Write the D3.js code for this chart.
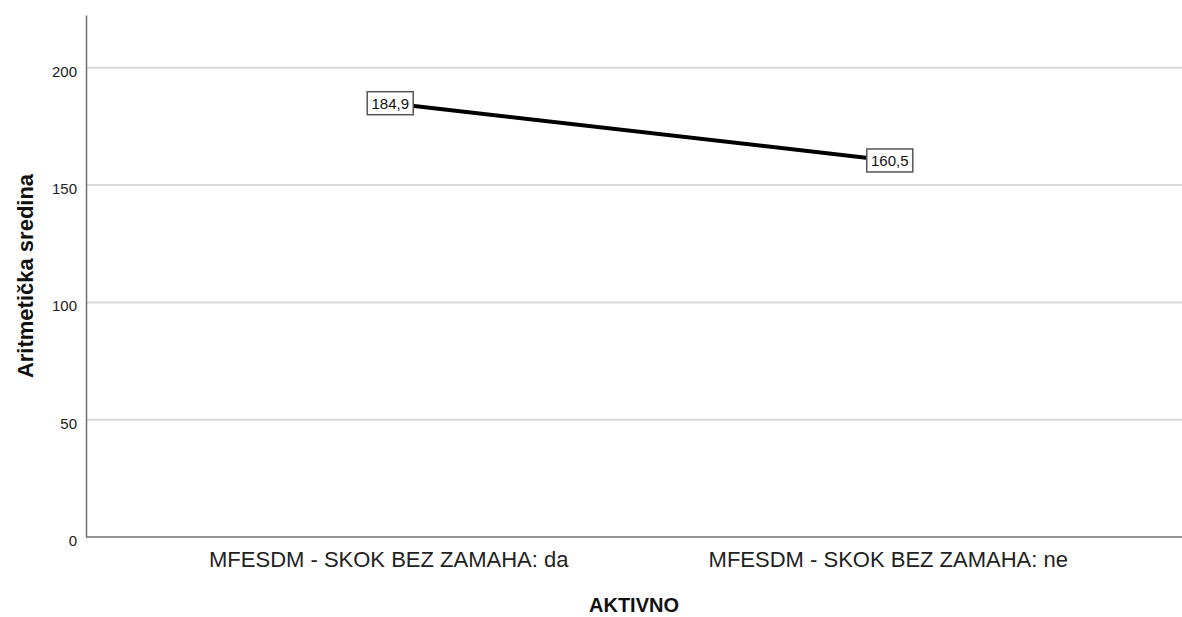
<!DOCTYPE html>
<html>
<head>
<meta charset="utf-8">
<script src="https://cdn.jsdelivr.net/npm/d3@7"></script>
<style>
  body { margin: 0; background: #fff; }
  svg { display: block; font-family: "Liberation Sans", Arial, sans-serif; }
</style>
</head>
<body>
<svg id="chart" width="1182" height="617"></svg>
<script>
const categories = ["MFESDM - SKOK BEZ ZAMAHA: da", "MFESDM - SKOK BEZ ZAMAHA: ne"];
const means = [184.9, 160.5];
const meanLabels = ["184,9", "160,5"];
const yTicks = [0, 50, 100, 150, 200];
const yMax = 222.5;
const xTitle = "AKTIVNO";
const yTitle = "Aritmetička sredina";

const FONT = "'Liberation Sans', Arial, sans-serif";
const svg = d3.select("#chart");
const mL = 86, mR = 1182, mT = 15, mB = 537;

const x = d3.scalePoint().domain(categories).range([mL, 1194]).padding(0.609);
const y = d3.scaleLinear().domain([0, yMax]).range([mB, mT]);

// gridlines
svg.append("g").selectAll("line").data(yTicks.filter(d => d > 0)).join("line")
  .attr("x1", mL).attr("x2", mR)
  .attr("y1", d => y(d)).attr("y2", d => y(d))
  .attr("stroke", "#d9d9d9").attr("stroke-width", 2);

// y axis
const yAxis = d3.axisLeft(y).tickValues(yTicks).tickSize(0).tickPadding(9).tickFormat(d3.format("d"));
const gy = svg.append("g").attr("transform", `translate(${mL},0)`).call(yAxis);
gy.select(".domain").attr("stroke", "#707070").attr("stroke-width", 1.5);
gy.selectAll("text").attr("font-size", 15).attr("fill", "#222").attr("dy", "0.56em").attr("font-family", FONT);

// x axis
const xAxis = d3.axisBottom(x).tickSize(0).tickPadding(14);
const gx = svg.append("g").attr("transform", `translate(0,${mB})`).call(xAxis);
gx.select(".domain").attr("stroke", "#707070").attr("stroke-width", 1.5).attr("d", `M${mL},0H${mR}`);
gx.selectAll("text").attr("font-size", 22).attr("fill", "#222").attr("dy", "0.71em").attr("font-family", FONT)
  .attr("dx", -2);

// line
const pts = categories.map((c, i) => ({ c, v: means[i], lab: meanLabels[i] }));
svg.append("path").datum(pts)
  .attr("d", d3.line().x(d => x(d.c)).y(d => y(d.v)))
  .attr("fill", "none").attr("stroke", "#000").attr("stroke-width", 4);

// value labels
const lg = svg.append("g").selectAll("g").data(pts).join("g")
  .attr("transform", d => `translate(${x(d.c)},${y(d.v)})`);
lg.append("rect").attr("x", -23).attr("y", -11.5).attr("width", 46).attr("height", 23)
  .attr("fill", "#fff").attr("stroke", "#555").attr("stroke-width", 1.5);
lg.append("text").attr("text-anchor", "middle").attr("dy", "0.36em")
  .attr("font-size", 15).attr("fill", "#111").attr("font-family", FONT).text(d => d.lab);

// axis titles
svg.append("text").attr("x", (mL + mR) / 2).attr("y", 612)
  .attr("text-anchor", "middle").attr("font-size", 20).attr("font-weight", "bold").attr("fill", "#111")
  .text(xTitle);
svg.append("text").attr("transform", `translate(33,${(mT + mB) / 2}) rotate(-90)`)
  .attr("text-anchor", "middle").attr("font-size", 22).attr("font-weight", "bold").attr("fill", "#111")
  .text(yTitle);
</script>
</body>
</html>
